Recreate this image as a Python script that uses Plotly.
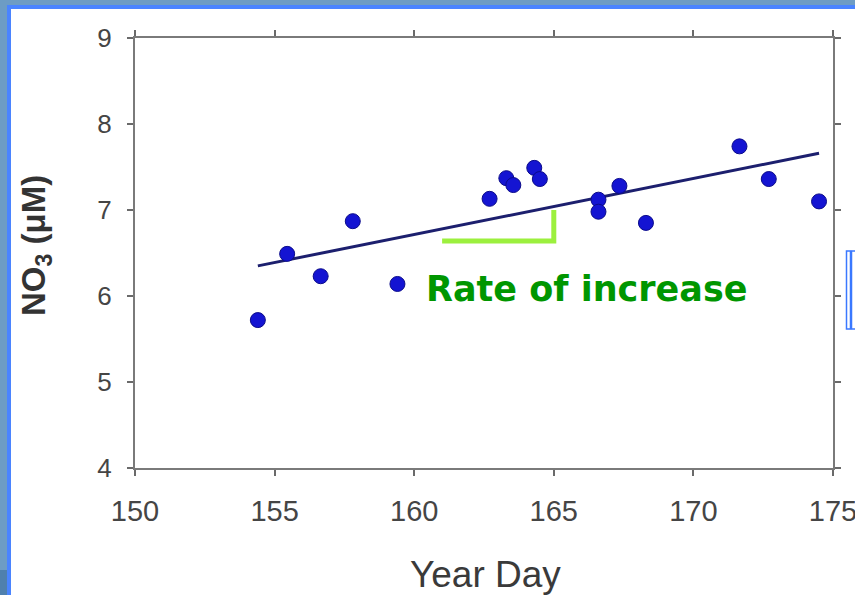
import plotly.graph_objects as go

# Nitrate observations by year day
year_day = [154.4, 155.45, 156.65, 157.8, 159.4, 162.7, 163.3, 163.55, 164.3, 164.5,
            166.6, 166.6, 167.35, 168.3, 171.65, 172.7, 174.5]
no3_um = [5.72, 6.49, 6.23, 6.87, 6.14, 7.13, 7.37, 7.29, 7.49, 7.36,
          7.12, 6.98, 7.28, 6.85, 7.74, 7.36, 7.10]

# Linear trend endpoints
trend_day = [154.4, 174.5]
trend_no3 = [6.35, 7.66]

# Slope bracket (run along the bottom, rise at the right)
bracket_day = [161.0, 165.0, 165.0]
bracket_no3 = [6.64, 6.64, 7.0]

x_ticks = [150, 155, 160, 165, 170, 175]
y_ticks = [4, 5, 6, 7, 8, 9]

W, H = 855, 595
L, R, T, B = 135, 22, 38, 127
PW, PH = W - L - R, H - T - B


def px(x):
    return (x - L) / PW


def py(y):
    return (H - B - y) / PH


FONT = "Liberation Sans, Arial, sans-serif"
WIDE = "DejaVu Sans, Verdana, sans-serif"

fig = go.Figure()

fig.add_trace(go.Scatter(
    x=trend_day, y=trend_no3, mode="lines",
    line=dict(color="#1c1f6e", width=3), hoverinfo="skip", showlegend=False,
))
fig.add_trace(go.Scatter(
    x=year_day, y=no3_um, mode="markers",
    marker=dict(size=15, color="#1414d2", line=dict(color="#0b0b8a", width=1)),
    showlegend=False,
))
fig.add_trace(go.Scatter(
    x=bracket_day, y=bracket_no3, mode="lines",
    line=dict(color="#9cf03e", width=5), hoverinfo="skip", showlegend=False,
))

shapes = [
    # slide background strip and white panel with bright border
    dict(type="rect", xref="paper", yref="paper", layer="below",
         x0=px(9), x1=px(W + 20), y0=py(7), y1=py(H + 20),
         fillcolor="white", line=dict(color="#4a84ff", width=4)),
    dict(type="rect", xref="paper", yref="paper", layer="below",
         x0=px(-5), x1=px(7), y0=py(570), y1=py(H + 5),
         fillcolor="#4f80ae", line=dict(width=0)),
    # thin outlined boxes at the right edge
    dict(type="rect", xref="paper", yref="paper",
         x0=px(846.5), x1=px(850.5), y0=py(251), y1=py(329),
         fillcolor="rgba(0,0,0,0)", line=dict(color="#3a78ff", width=1.5)),
    dict(type="rect", xref="paper", yref="paper",
         x0=px(851.5), x1=px(858), y0=py(251), y1=py(329),
         fillcolor="rgba(0,0,0,0)", line=dict(color="#3a78ff", width=1.5)),
]

annotations = [
    dict(x=px(587), y=py(289), xref="paper", yref="paper",
         xanchor="center", yanchor="middle",
         text="<b>Rate of increase</b>", showarrow=False,
         font=dict(family=WIDE, size=35, color="#009600")),
    dict(x=px(485), y=py(574), xref="paper", yref="paper",
         xanchor="center", yanchor="middle",
         text="Year Day", showarrow=False,
         font=dict(family=FONT, size=37, color="#3a3a3a")),
    dict(x=px(36), y=py(246), xref="paper", yref="paper", textangle=-90,
         xanchor="center", yanchor="middle",
         text="<b>NO<sub>3</sub> (μM)</b>", showarrow=False,
         font=dict(family=FONT, size=33, color="#333333")),
]

axis_common = dict(
    showgrid=False, zeroline=False, automargin=False,
    showline=True, linecolor="#7a7a7a", linewidth=2, mirror="allticks",
    ticks="outside", ticklen=6, tickwidth=1.5, tickcolor="#6a6a6a",
    ticklabeloverflow="allow",
)

fig.update_layout(
    width=W, height=H,
    margin=dict(l=L, r=R, t=T, b=B),
    paper_bgcolor="#6d9cc4",
    plot_bgcolor="rgba(0,0,0,0)",
    shapes=shapes,
    annotations=annotations,
    xaxis=dict(
        range=[150, 175], tickvals=x_ticks,
        tickfont=dict(family=FONT, size=29, color="#454545"),
        ticklabelstandoff=10, **axis_common,
    ),
    yaxis=dict(
        range=[4, 9], tickvals=y_ticks,
        tickfont=dict(family=FONT, size=26, color="#454545"),
        ticklabelstandoff=10, **axis_common,
    ),
)

fig.write_html("out.html")
